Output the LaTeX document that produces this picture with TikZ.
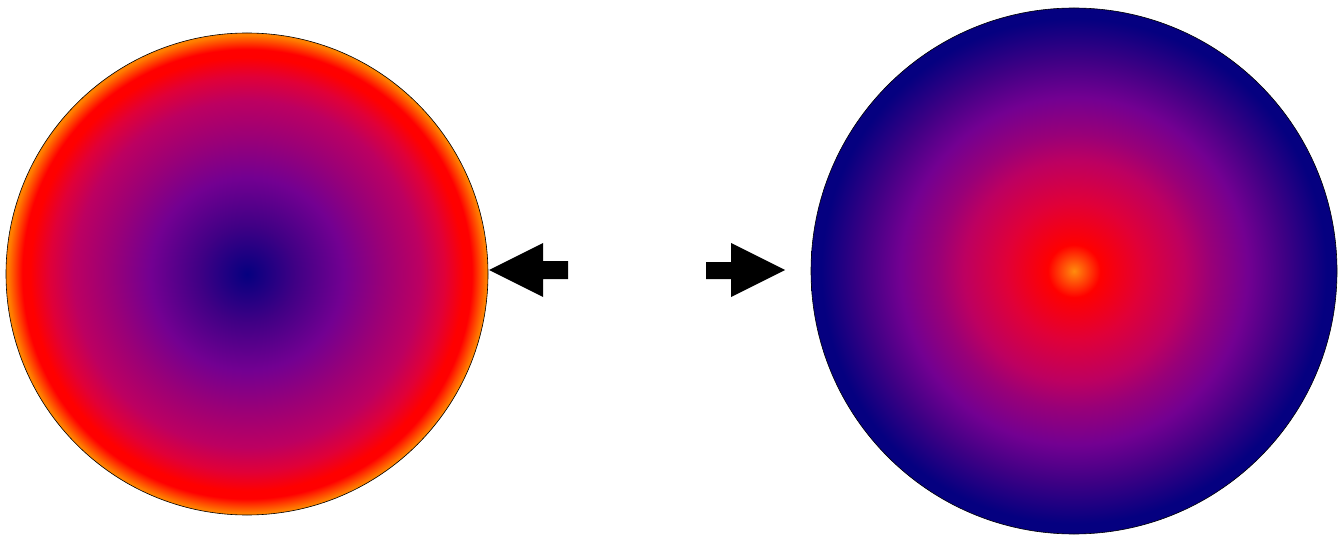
\documentclass[tikz,border=0pt]{standalone}
\usetikzlibrary{shadings}
\definecolor{navyc}{rgb}{0.02,0,0.5}
\definecolor{bpurc}{rgb}{0.25,0,0.52}
\definecolor{purpc}{rgb}{0.45,0,0.57}
\definecolor{pmagc}{rgb}{0.6,0,0.47}
\definecolor{magc}{rgb}{0.74,0,0.38}
\definecolor{redc}{rgb}{1,0,0}
\definecolor{orac}{rgb}{1,0.5,0}
\definecolor{orcc}{rgb}{1,0.55,0.05}
\definecolor{crimc}{rgb}{0.88,0,0.22}
\pgfdeclareradialshading{leftshade}{\pgfpoint{0bp}{0bp}}{color(0bp)=(navyc); color(5bp)=(bpurc); color(10bp)=(purpc); color(14bp)=(pmagc); color(18bp)=(magc); color(20.5bp)=(crimc); color(22.5bp)=(redc); color(23.3bp)=(redc); color(24.8bp)=(orac); color(50bp)=(orac)}
\pgfdeclareradialshading{rightshade}{\pgfpoint{0bp}{0bp}}{color(0bp)=(orcc); color(2.5bp)=(redc); color(6.5bp)=(crimc); color(10.5bp)=(magc); color(13bp)=(pmagc); color(16.5bp)=(purpc); color(20bp)=(bpurc); color(24bp)=(navyc); color(50bp)=(navyc)}
\tikzset{
  disc/.style={draw=black, line width=0.6pt},
  blockarrow/.style={fill=black, draw=none}
}
\begin{document}
\begin{tikzpicture}[x=1pt,y=-1pt]
\useasboundingbox (0,0) rectangle (1340,537);
\shade[disc, shading=leftshade] (247,274) circle[radius=241];
\shade[disc, shading=rightshade] (1074,271) circle[radius=263];
\fill[blockarrow] (489,270) -- (543,243) -- (543,261) -- (568,261) -- (568,279) -- (543,279) -- (543,297) -- cycle;
\fill[blockarrow] (785,270) -- (731,243) -- (731,262) -- (706,262) -- (706,279) -- (731,279) -- (731,297) -- cycle;
\end{tikzpicture}
\end{document}
